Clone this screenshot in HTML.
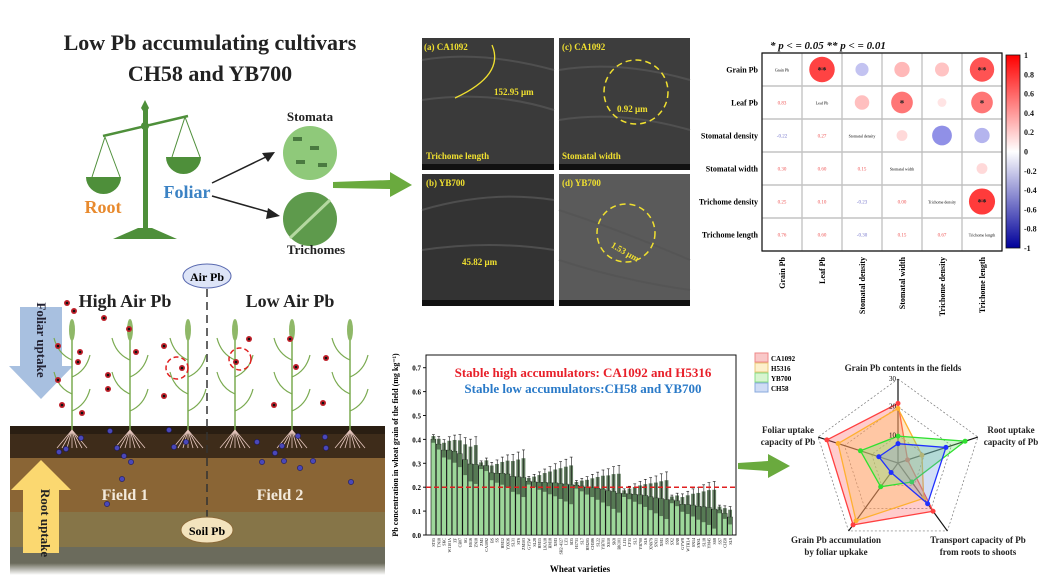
<!DOCTYPE html>
<html><head><meta charset="utf-8"><style>
body{margin:0;width:1046px;height:580px;background:#fff;overflow:hidden;font-family:"Liberation Serif",serif}
svg text{font-family:"Liberation Serif",serif}
</style></head><body>
<svg id="s" width="1046" height="580" viewBox="0 0 1046 580" xmlns="http://www.w3.org/2000/svg">
<text x="210" y="50" font-size="22" font-weight="bold" text-anchor="middle" fill="#222">Low Pb accumulating cultivars</text>
<text x="210" y="81" font-size="22" font-weight="bold" text-anchor="middle" fill="#222">CH58 and YB700</text>
<g fill="#4e8f3a" stroke="#4e8f3a">
<rect x="143" y="108" width="5" height="122" stroke="none"/>
<polygon points="145,100 149,108 145,114 141,108" stroke="none"/>
<circle cx="145" cy="126" r="4" stroke="none"/>
<line x1="103" y1="136" x2="188" y2="116" stroke-width="2.5"/>
<polygon points="113,239 177,239 152,228 138,228" stroke="none"/>
<line x1="105" y1="137" x2="92" y2="177" stroke-width="1"/><line x1="105" y1="137" x2="120" y2="177" stroke-width="1"/>
<line x1="185" y1="117" x2="172" y2="157" stroke-width="1"/><line x1="185" y1="117" x2="200" y2="157" stroke-width="1"/>
<path d="M86,177 H121 A17.5,17 0 0 1 86,177Z" stroke="none"/>
<path d="M166,157 H201 A17.5,17 0 0 1 166,157Z" stroke="none"/>
</g>
<text x="103" y="213" font-size="18" font-weight="bold" text-anchor="middle" fill="#e88a2e">Root</text>
<text x="187" y="198" font-size="18" font-weight="bold" text-anchor="middle" fill="#3b82c4">Foliar</text>
<line x1="212" y1="183" x2="270" y2="155" stroke="#222" stroke-width="1.5"/><polygon points="275,152 262,153 268,162" fill="#222"/>
<line x1="212" y1="196" x2="272" y2="213" stroke="#222" stroke-width="1.5"/><polygon points="280,216 268,208 266,219" fill="#222"/>
<text x="310" y="121" font-size="13" font-weight="bold" text-anchor="middle" fill="#222">Stomata</text>
<circle cx="310" cy="153" r="27" fill="#8fc97a"/>
<g fill="#4a7a40"><rect x="293" y="137" width="9" height="4"/><rect x="310" y="146" width="9" height="4"/><rect x="296" y="160" width="9" height="4"/><rect x="318" y="163" width="9" height="4"/></g>
<circle cx="310" cy="219" r="27" fill="#5e9a4c"/>
<line x1="290" y1="238" x2="330" y2="200" stroke="#b4d8a0" stroke-width="3"/>
<text x="316" y="254" font-size="13" font-weight="bold" text-anchor="middle" fill="#222">Trichomes</text>
<polygon points="333,182 390,180 390,172 412,185 390,197 390,189 333,188" fill="#6aaa3e"/>

<g>
<rect x="422" y="38" width="132" height="132" fill="#3a3a3a"/>
<rect x="559" y="38" width="131" height="132" fill="#3d3d3d"/>
<rect x="422" y="174" width="132" height="132" fill="#333"/>
<rect x="559" y="174" width="131" height="132" fill="#5a5a5a"/>
<g stroke="#555" stroke-width="2" fill="none" opacity=".8">
<path d="M422,60 Q480,50 554,70"/><path d="M422,100 Q490,90 554,110"/><path d="M559,70 Q620,60 690,80"/><path d="M559,120 Q620,110 690,130"/>
<path d="M422,210 Q490,190 554,200"/><path d="M422,250 Q490,240 554,250"/><path d="M559,210 Q620,230 690,260"/><path d="M559,260 Q620,280 690,290"/>
</g>
<g fill="#111"><rect x="422" y="164" width="132" height="6"/><rect x="559" y="164" width="131" height="6"/><rect x="422" y="300" width="132" height="6"/><rect x="559" y="300" width="131" height="6"/></g>
<g font-size="9" font-weight="bold" fill="#f0e030">
<text x="424" y="50">(a) CA1092</text><text x="562" y="50">(c) CA1092</text>
<text x="426" y="186">(b) YB700</text><text x="562" y="186">(d) YB700</text>
<text x="494" y="95">152.95 μm</text><text x="617" y="112">0.92 μm</text>
<text x="426" y="159">Trichome length</text><text x="562" y="159">Stomatal width</text>
<text x="462" y="265">45.82 μm</text><text x="610" y="252" transform="rotate(30 620 250)">1.53 μm</text>
</g>
<path d="M492,45 Q505,75 455,98" stroke="#f0e030" stroke-width="1.3" fill="none"/>
<g stroke="#f0e030" stroke-width="1.5" fill="none" stroke-dasharray="6,4">
<circle cx="636" cy="92" r="32"/><circle cx="626" cy="233" r="29"/></g>
</g>

<text x="770" y="49" font-size="11" font-weight="bold" font-style="italic" fill="#111">* p &lt; = 0.05  ** p &lt; = 0.01</text>
<g id="hm"></g>
<defs><linearGradient id="cb" x1="0" y1="0" x2="0" y2="1"><stop offset="0" stop-color="#ff0000"/><stop offset=".5" stop-color="#fff"/><stop offset="1" stop-color="#00009a"/></linearGradient></defs>
<rect x="1006" y="55" width="14" height="193" fill="url(#cb)" stroke="#111" stroke-width=".8"/>
<g font-size="8" font-weight="bold" fill="#111" id="cbl"></g>

<g>
<defs><linearGradient id="fade" x1="0" y1="0" x2="0" y2="1"><stop offset="0" stop-color="#6a6a5a"/><stop offset="1" stop-color="#fff"/></linearGradient></defs>
<rect x="10" y="426" width="375" height="32" fill="#3e2c1a"/>
<rect x="10" y="458" width="375" height="54" fill="#8a6535"/>
<rect x="10" y="512" width="375" height="35" fill="#867548"/>
<rect x="10" y="547" width="375" height="16" fill="#6b6b5c"/>
<rect x="10" y="563" width="375" height="12" fill="url(#fade)"/>
<rect x="10" y="426" width="375" height="8" fill="#2a1e12"/>
<polygon points="20,307 62,307 62,366 73,366 41,399 9,366 20,366" fill="#a8c0e0"/>
<text transform="translate(37,340) rotate(90)" font-size="13" font-weight="bold" text-anchor="middle" fill="#223">Foliar uptake</text>
<polygon points="41,460 71,490 59,490 59,553 23,553 23,490 11,490" fill="#fbd870"/>
<text transform="translate(41,523) rotate(90)" font-size="13" font-weight="bold" text-anchor="middle" fill="#222">Root uptake</text>
<ellipse cx="207" cy="276" rx="24" ry="12" fill="#dde4f7" stroke="#5a6ab0"/>
<text x="207" y="281" font-size="12" font-weight="bold" text-anchor="middle">Air Pb</text>
<line x1="207" y1="289" x2="207" y2="540" stroke="#333" stroke-width="1.5" stroke-dasharray="8,5"/>
<ellipse cx="207" cy="530" rx="26" ry="13" fill="#f3e3bd" stroke="#8a6a3a"/>
<text x="207" y="535" font-size="12" font-weight="bold" text-anchor="middle">Soil Pb</text>
<text x="125" y="307" font-size="18" font-weight="bold" text-anchor="middle" fill="#222">High Air Pb</text>
<text x="290" y="307" font-size="18" font-weight="bold" text-anchor="middle" fill="#222">Low Air Pb</text>
<text x="125" y="500" font-size="16" font-weight="bold" text-anchor="middle" fill="#f3eadc">Field 1</text>
<text x="280" y="500" font-size="16" font-weight="bold" text-anchor="middle" fill="#f3eadc">Field 2</text>
<g id="plants"></g>
</g>

<g id="bar"></g>
<text transform="translate(398,445) rotate(-90)" font-size="8" font-weight="bold" text-anchor="middle">Pb concentration in wheat grain of the field (mg kg⁻¹)</text>
<text x="580" y="572" font-size="9" font-weight="bold" text-anchor="middle">Wheat varieties</text>
<text x="583" y="377" font-size="13" font-weight="bold" text-anchor="middle" fill="#e8202a">Stable high accumulators: CA1092 and H5316</text>
<text x="583" y="393" font-size="13" font-weight="bold" text-anchor="middle" fill="#2a7ac8">Stable low accumulators:CH58 and YB700</text>
<polygon points="738,463 768,461 768,454 790,466 768,478 768,471 738,469" fill="#6aaa3e"/>

<g id="radar"></g>
<g font-size="7" font-weight="bold">
<rect x="755" y="353" width="13" height="9" fill="#f9c8c8" stroke="#e88"/><text x="771" y="361">CA1092</text>
<rect x="755" y="363" width="13" height="9" fill="#fdf0cc" stroke="#e8c878"/><text x="771" y="371">H5316</text>
<rect x="755" y="373" width="13" height="9" fill="#d8f5d0" stroke="#8d8"/><text x="771" y="381">YB700</text>
<rect x="755" y="383" width="13" height="9" fill="#cfdcf5" stroke="#8ad"/><text x="771" y="391">CH58</text>
</g>
<g font-size="9" font-weight="bold" text-anchor="middle" fill="#222">
<text x="903" y="371">Grain Pb contents in the fields</text>
<text x="1011" y="433">Root uptake</text><text x="1011" y="445">capacity of Pb</text>
<text x="788" y="433">Foliar uptake</text><text x="788" y="445">capacity of Pb</text>
<text x="836" y="543">Grain Pb accumulation</text><text x="836" y="555">by foliar upkake</text>
<text x="978" y="543">Transport capacity of Pb</text><text x="978" y="555">from roots to shoots</text>
</g>
</svg>
<script>
const NS="http://www.w3.org/2000/svg";
function el(p,t,a,txt){const e=document.createElementNS(NS,t);for(const k in a)e.setAttribute(k,a[k]);if(txt!==undefined)e.textContent=txt;p.appendChild(e);return e;}
const hm=document.getElementById('hm');
const X0=762,Y0=53,CW=40,CH=33;
const names=["Grain Pb","Leaf Pb","Stomatal density","Stomatal width","Trichome density","Trichome length"];
const M=[[1,.83,-.22,.3,.25,.76],[.83,1,.27,.6,.1,.6],[-.22,.27,1,.15,-.5,-.3],[.3,.6,.15,1,0,.15],[.25,.1,-.23,0,1,.87],[.76,.6,-.3,.15,.67,1]];
const stars={"0,1":"**","0,5":"**","1,3":"*","1,5":"*","4,5":"**"};
function col(v){if(v>=0){const a=Math.min(1,v*1.1);return `rgb(255,${Math.round(250-200*a)},${Math.round(250-200*a)})`;}const a=Math.min(1,-v*1.3);return `rgb(${Math.round(235-140*a)},${Math.round(235-140*a)},${Math.round(250-30*a)})`;}
for(let i=0;i<=6;i++){el(hm,'line',{x1:X0+i*CW,y1:Y0,x2:X0+i*CW,y2:Y0+6*CH,stroke:'#bbb','stroke-width':1.2});el(hm,'line',{x1:X0,y1:Y0+i*CH,x2:X0+6*CW,y2:Y0+i*CH,stroke:'#c4c4c4','stroke-width':1.6});}
el(hm,'rect',{x:X0,y:Y0,width:6*CW,height:6*CH,fill:'none',stroke:'#111','stroke-width':1.2});
for(let r=0;r<6;r++){
 el(hm,'text',{x:X0-4,y:Y0+r*CH+CH/2+3,'font-size':8,'font-weight':'bold','text-anchor':'end'},names[r]);
 el(hm,'text',{transform:`translate(${X0+r*CW+CW/2+3},${Y0+6*CH+6}) rotate(-90)`,'font-size':8,'font-weight':'bold','text-anchor':'end'},names[r]);
 for(let c=0;c<6;c++){const cx=X0+c*CW+CW/2,cy=Y0+r*CH+CH/2;
  if(r===c){el(hm,'text',{x:cx,y:cy+2,'font-size':4,'text-anchor':'middle'},names[r]);}
  else if(c>r){const v=M[r][c];if(v!==0)el(hm,'circle',{cx,cy,r:14*Math.sqrt(Math.abs(v)),fill:col(v)});
   if(stars[r+","+c])el(hm,'text',{x:cx,y:cy+4,'font-size':9,'font-weight':'bold','text-anchor':'middle',fill:'#222'},stars[r+","+c]);}
  else{el(hm,'text',{x:cx,y:cy+2,'font-size':5,'text-anchor':'middle',fill:M[r][c]>=0?'#e55':'#77c'},M[r][c].toFixed(2));}
 }}
const cbl=document.getElementById('cbl');
[1,.8,.6,.4,.2,0,-.2,-.4,-.6,-.8,-1].forEach((v,i)=>el(cbl,'text',{x:1024,y:55+i*19.3+3},String(v)));
const pl=document.getElementById('plants');
[72,130,188,235,292,350].forEach(x=>{
 el(pl,'line',{x1:x,y1:430,x2:x,y2:322,stroke:'#7aaa50','stroke-width':1.5});
 el(pl,'ellipse',{cx:x,cy:330,rx:3,ry:11,fill:'#8fb868'});
 for(let k=0;k<4;k++){const y=360+k*17;el(pl,'path',{d:`M${x},${y} q${k%2?14:-14},-6 ${k%2?18:-18},-22`,stroke:'#7aaa50',fill:'none','stroke-width':1.2});}
 for(let k=-3;k<=3;k++)el(pl,'line',{x1:x,y1:430,x2:x+k*5,y2:448,stroke:'#e8c8c0','stroke-width':.8});
});
[[67,303],[74,311],[104,318],[58,346],[80,352],[78,362],[58,380],[62,405],[82,413],[129,329],[136,352],[108,375],[108,389],[164,346],[182,368],[164,396],[236,362],[249,339],[290,339],[296,367],[274,405],[323,403],[326,358]].forEach(p=>{el(pl,'circle',{cx:p[0],cy:p[1],r:3,fill:'#c0202a'});el(pl,'circle',{cx:p[0],cy:p[1],r:1.3,fill:'#111'});});
el(pl,'circle',{cx:177,cy:368,r:11,fill:'none',stroke:'#e02020','stroke-width':1.5,'stroke-dasharray':'5,3'});
el(pl,'circle',{cx:240,cy:359,r:11,fill:'none',stroke:'#e02020','stroke-width':1.5,'stroke-dasharray':'5,3'});
[[59,452],[66,449],[81,438],[110,431],[117,448],[124,456],[131,462],[122,479],[107,504],[169,430],[186,442],[174,447],[257,442],[282,446],[275,453],[262,462],[284,461],[300,468],[313,461],[298,436],[325,437],[351,482],[326,448]].forEach(p=>el(pl,'circle',{cx:p[0],cy:p[1],r:2.6,fill:'#4a48b8',stroke:'#1a1860','stroke-width':.6}));
const b=document.getElementById('bar');
const L=426,R=736,T=355,B=535,S=239;
const vals=[.40,.38,.355,.355,.35,.34,.315,.297,.295,.29,.29,.26,.258,.258,.255,.245,.243,.24,.225,.222,.22,.22,.218,.218,.215,.213,.21,.208,.205,.2,.198,.195,.192,.185,.182,.175,.173,.172,.17,.168,.165,.16,.155,.152,.148,.147,.143,.128,.127,.125,.12,.118,.115,.108,.105,.09,.075];
const labs=["ST05","TN18","SKC","W1101A","ZF","CB07","SG","HS16","ZN18","ZM1","CA1092","BS","SS","HM12","YX636","SL31","ST6","ZM103","GY5W","SL28","HM15","LKA18","HM18","XM3","SH2-4127","LZ1","SD5","H1731","SL7","HM205","CH586","SL22","YB701","XS10","SK8","BK101","LJ11","CF35","SL5","YB700","SL6","XN979","SN31","XM1","SS9","SX2","SN8","GYW8","WTHL4","SN14","SNSL","SL18","YM45","SS8","SS7","CH58","SL9"];
const n=vals.length,bw=(R-L-8)/n;
el(b,'rect',{x:L,y:T,width:R-L,height:B-T,fill:'none',stroke:'#111','stroke-width':1});
for(let i=0;i<=7;i++){const y=B-i*23.9;el(b,'line',{x1:L-3,y1:y,x2:L,y2:y,stroke:'#111'});el(b,'text',{x:L-5,y:y+3,'font-size':7,'font-weight':'bold','text-anchor':'end'},(i/10).toFixed(1));}
vals.forEach((v,i)=>{const x=L+5+i*bw,h=v*S;const e=0.02+((i*37)%9)*0.012;
 el(b,'rect',{x,y:B-h,width:bw-0.6,height:h,fill:'#9dd79a',stroke:'#111','stroke-width':.6});
 el(b,'rect',{x:x+0.5,y:B-h-e*S*0.7,width:bw-1.5,height:e*S*1.4,fill:'#4a6a48',opacity:.85});
 el(b,'line',{x1:x+bw/2,y1:B-h-e*S,x2:x+bw/2,y2:B-h,stroke:'#111','stroke-width':.6});
 el(b,'line',{x1:x+1,y1:B-h-e*S,x2:x+bw-1.5,y2:B-h-e*S,stroke:'#111','stroke-width':.6});
 el(b,'text',{transform:`translate(${x+bw/2+1.5},${B+3}) rotate(-90)`,'font-size':4,'text-anchor':'end'},labs[i]);
});
el(b,'line',{x1:L,y1:B-.2*S,x2:R,y2:B-.2*S,stroke:'#e02020','stroke-width':1.5,'stroke-dasharray':'5,3'});
const rd=document.getElementById('radar');const cx=898,cy=463,Rr=84;
const ang=[-90,-18,54,126,198].map(a=>a*Math.PI/180);
function pt(i,f){return [cx+Rr*f*Math.cos(ang[i]),cy+Rr*f*Math.sin(ang[i])];}
[1,.67,.33].forEach(f=>el(rd,'polygon',{points:ang.map((a,i)=>pt(i,f).join(',')).join(' '),fill:'none',stroke:'#777','stroke-dasharray':'2,2','stroke-width':.7}));
ang.forEach((a,i)=>{const p=pt(i,1.0);el(rd,'line',{x1:cx,y1:cy,x2:p[0],y2:p[1],stroke:'#111','stroke-width':1.2});});
const series=[[[.71,.12,.71,.91,.89],'#ff4040','rgba(255,110,110,.35)'],[[.65,.3,.52,.85,.75],'#ffb030','rgba(255,190,90,.35)'],[[.32,.84,.28,.35,.47],'#30e030','rgba(120,230,120,.35)'],[[.23,.6,.6,.14,.24],'#2030ff','rgba(110,150,230,.3)']];
series.forEach(s=>{const pts=s[0].map((f,i)=>pt(i,f));el(rd,'polygon',{points:pts.map(p=>p.join(',')).join(' '),fill:s[2],stroke:s[1],'stroke-width':1.3});pts.forEach(p=>el(rd,'circle',{cx:p[0],cy:p[1],r:2.5,fill:s[1]}));});
el(rd,'text',{x:cx-2,y:cy-Rr+2,'font-size':7,'text-anchor':'end'},'30');
el(rd,'text',{x:cx-2,y:cy-Rr*.67+2,'font-size':7,'text-anchor':'end'},'20');
el(rd,'text',{x:cx-2,y:cy-Rr*.33+2,'font-size':7,'text-anchor':'end'},'10');
</script>
</body></html>
